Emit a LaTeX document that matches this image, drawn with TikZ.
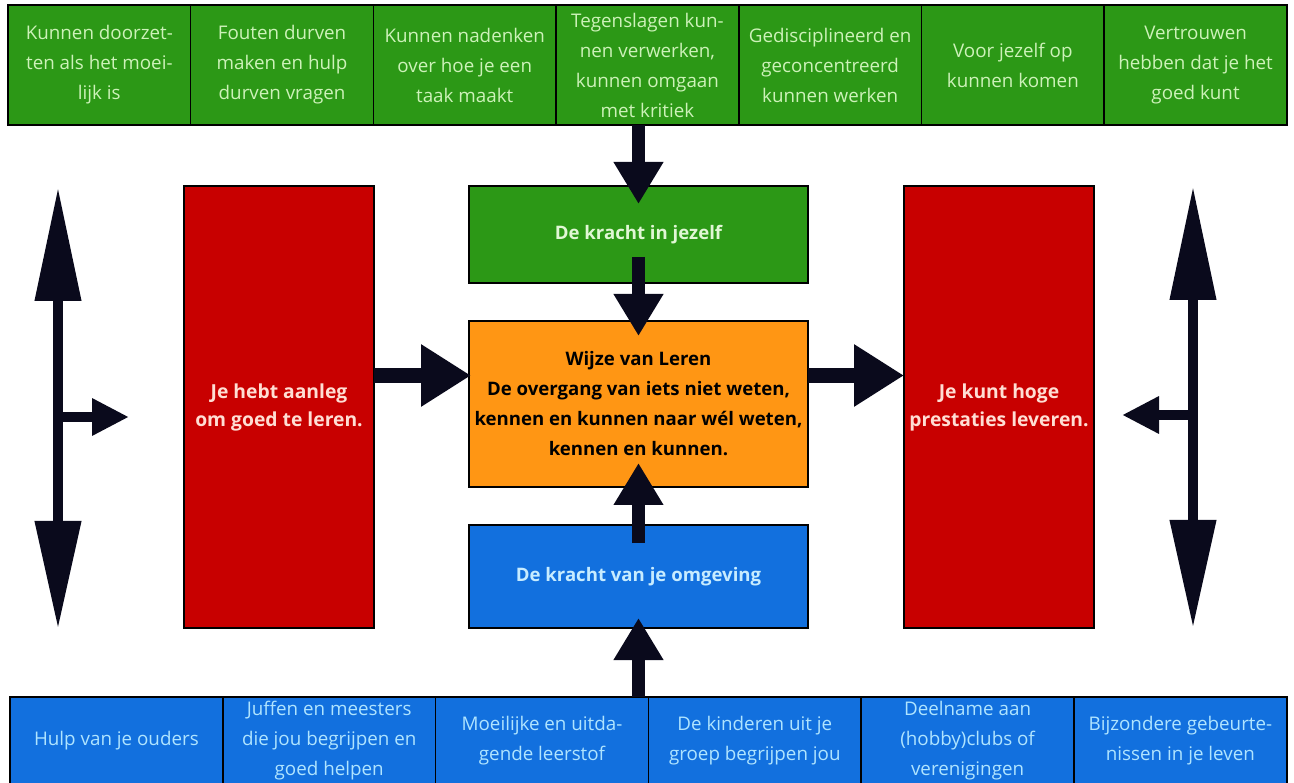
\documentclass[tikz,border=0pt]{standalone}
\usepackage{fontspec}
\setmainfont{Open Sans}
\usetikzlibrary{arrows.meta,positioning}

\definecolor{boxgreen}{RGB}{44,152,22}
\definecolor{txtgreen}{RGB}{205,242,185}
\definecolor{boxblue}{RGB}{18,112,222}
\definecolor{txtblue}{RGB}{175,228,255}
\definecolor{boxorange}{RGB}{255,150,20}
\definecolor{boxred}{RGB}{200,0,0}
\definecolor{txtred}{RGB}{255,222,212}
\definecolor{arrowcol}{RGB}{10,10,28}

\begin{document}
\begin{tikzpicture}[x=1pt,y=-1pt,
    cell/.style={draw=black,line width=1.5pt,outer sep=0pt,inner sep=2pt,
      anchor=north west,align=center,font=\fontsize{18.8}{30}\selectfont},
    topcell/.style={cell,fill=boxgreen,text=txtgreen,minimum width=182.7pt,minimum height=120pt},
    botcell/.style={cell,fill=boxblue,text=txtblue,minimum width=212.8pt,minimum height=88pt},
    midbox/.style={cell,minimum width=339pt,font=\bfseries\fontsize{18.6}{30}\selectfont},
    redbox/.style={cell,fill=boxred,text=txtred,minimum width=190pt,minimum height=442pt,
      font=\bfseries\fontsize{19.3}{28}\selectfont},
    varrow/.style={draw=arrowcol,line width=13pt,-{Triangle[length=42pt,width=47pt]}},
    harrow/.style={draw=arrowcol,line width=15pt,-{Triangle[length=50pt,width=59pt]}},
    sidearrow/.style={draw=arrowcol,line width=10.5pt,
      {Triangle[length=114pt,width=44pt]}-{Triangle[length=108pt,width=44pt]}},
    branch/.style={draw=arrowcol,line width=10pt,-{Triangle[length=37pt,width=35pt]}}]

\useasboundingbox (0,0) rectangle (1294,783);
\clip (0,0) rectangle (1294,783);

% top row: de kracht in jezelf
\foreach \txt [count=\i] in {%
    {Kunnen doorzet-\\ten als het moei-\\lijk is},
    {Fouten durven\\maken en hulp\\durven vragen},
    {Kunnen nadenken\\over hoe je een\\taak maakt},
    {Tegenslagen kun-\\nen verwerken,\\kunnen omgaan\\met kritiek},
    {Gedisciplineerd en\\geconcentreerd\\kunnen werken},
    {Voor jezelf op\\kunnen komen},
    {Vertrouwen\\hebben dat je het\\goed kunt}}
  \node[topcell] (top\i) at ({8+(\i-1)*182.7},5) {\txt};

% bottom row: de kracht van je omgeving
\foreach \txt [count=\i] in {%
    {Hulp van je ouders},
    {Juffen en meesters\\die jou begrijpen en\\goed helpen},
    {Moeilijke en uitda-\\gende leerstof},
    {De kinderen uit je\\groep begrijpen jou},
    {Deelname aan\\(hobby)clubs of\\verenigingen},
    {Bijzondere gebeurte-\\nissen in je leven}}
  \node[botcell] (bot\i) at ({10+(\i-1)*212.8},697) {\txt};

% middle column
\node[midbox,fill=boxgreen,text=txtgreen!60!white,minimum height=97pt] (jezelf) at (469,186) {De kracht in jezelf};
\node[midbox,fill=boxorange,text=black,minimum height=166pt] (leren) at (469,321)
  {Wijze van Leren\\De overgang van iets niet weten,\\kennen en kunnen naar wél weten,\\kennen en kunnen.};
\node[midbox,fill=boxblue,text=txtblue!70!white,minimum height=103pt] (omgeving) at (469,525) {De kracht van je omgeving};

% red boxes
\node[redbox] (aanleg) at (184,186) {Je hebt aanleg\\om goed te leren.};
\node[redbox] (prestatie) at (904,186) {Je kunt hoge\\prestaties leveren.};

% arrows into the middle
\draw[varrow,shorten >=-18pt] (jezelf.north |- top4.south) -- (jezelf.north);
\draw[varrow,shorten <=-26pt,shorten >=-15pt] (jezelf.south) -- (leren.north);
\draw[varrow,shorten <=-18pt,shorten >=-24pt] (omgeving.north) -- (leren.south);
\draw[varrow,shorten >=-10pt] (omgeving.south |- bot3.north) -- (omgeving.south);
\draw[harrow,shorten >=-2pt] ([yshift=31.5pt]aanleg.east) -- ([yshift=31.5pt]aanleg.east -| leren.west);
\draw[harrow] ([yshift=28.5pt]leren.east) -- ([yshift=28.5pt]leren.east -| prestatie.west);

% side arrows
\coordinate (ltop) at (58,187);
\coordinate (lbot) at (58,629);
\coordinate (lmid) at (58,417);
\coordinate (lend) at (129,417);
\coordinate (rtop) at (1193,186);
\coordinate (rbot) at (1193,628);
\coordinate (rmid) at (1193,415);
\coordinate (rend) at (1122,415);
\draw[sidearrow] (ltop) -- (lbot);
\draw[branch] (lmid) -- (lend);
\draw[sidearrow] (rtop) -- (rbot);
\draw[branch] (rmid) -- (rend);
\end{tikzpicture}
\end{document}
